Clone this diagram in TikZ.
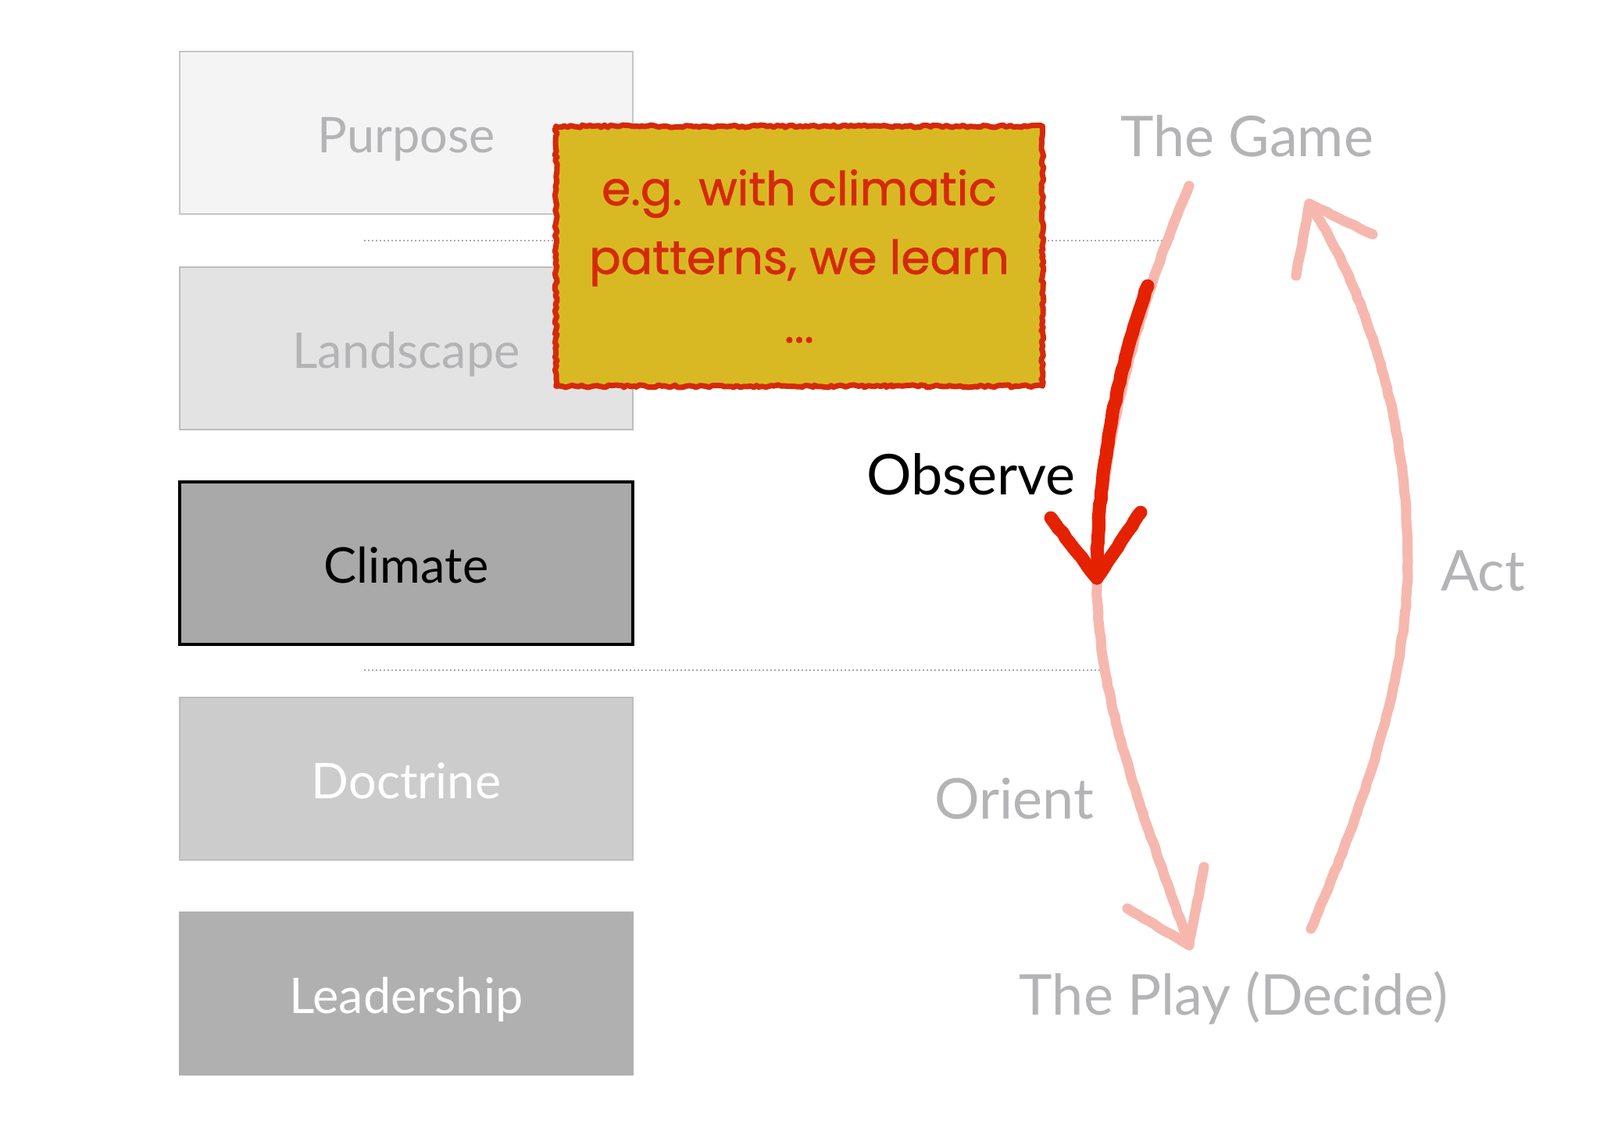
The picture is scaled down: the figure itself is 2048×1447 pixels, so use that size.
\documentclass[tikz,border=0pt]{standalone}
\usepackage{fontspec}
\setmainfont{Lato}
\newfontfamily\comicfont[BoldFont=Poppins, BoldFeatures={FakeBold=1.2}]{Poppins}
\usetikzlibrary{decorations.pathmorphing}
\definecolor{lblgray}{HTML}{B4B4B7}
\definecolor{pfill}{HTML}{F4F4F4}
\definecolor{pline}{HTML}{C6C6C6}
\definecolor{lfill}{HTML}{E3E3E3}
\definecolor{lline}{HTML}{BDBDBD}
\definecolor{cfill}{HTML}{A9A9A9}
\definecolor{dfill}{HTML}{CCCCCC}
\definecolor{dline}{HTML}{BEBEBE}
\definecolor{efill}{HTML}{B0B0B0}
\definecolor{notefill}{HTML}{D9B923}
\definecolor{notered}{HTML}{D42A0A}
\definecolor{pinkc}{HTML}{F6B8AE}
\definecolor{redc}{HTML}{E52200}
\definecolor{dotc}{HTML}{AAAAAA}
\tikzset{
  layer/.style={draw, minimum width=290pt, minimum height=104pt, inner sep=0pt,
    line width=1.2pt, text height=29pt, text depth=4pt,
    font=\fontsize{31.5}{36}\selectfont},
  biglabel/.style={inner sep=0pt, font=\fontsize{36}{42}\selectfont, text=lblgray},
  guide/.style={draw=dotc, line width=1pt, dash pattern=on 1pt off 1.5pt},
  crayon/.style={draw=pinkc, line width=6.5pt, line cap=round, line join=round,
    decorate, decoration={random steps, segment length=4pt, amplitude=0.35pt}},
  crayonred/.style={crayon, draw=redc, line width=8.5pt},
  notebox/.style={fill=notefill, minimum width=311pt, minimum height=166pt, inner sep=0pt,
    align=center, text=notered, font=\comicfont\bfseries\fontsize{30}{44}\selectfont},
  roughedge/.style={draw=notered, line width=3.5pt, line join=round, decorate,
    decoration={random steps, segment length=2pt, amplitude=0.8pt}}
}
\begin{document}
\begin{tikzpicture}[x=0.5pt,y=-0.5pt]
\useasboundingbox (0,0) rectangle (2048,1447);
\fill[white] (0,0) rectangle (2048,1447);

% layer boxes
\node[layer, fill=pfill, draw=pline, text=lblgray] (purpose) at (520,170) {Purpose};
\node[layer, fill=lfill, draw=lline, text=lblgray] (landscape) at (520,446) {Landscape};
\node[layer, fill=cfill, draw=black, line width=1.8pt, text=black] (climate) at (520,721) {Climate};
\node[layer, fill=dfill, draw=dline, text=white] (doctrine) at (520,997) {Doctrine};
\node[layer, fill=efill, draw=efill, text=white] (leadership) at (520,1272) {Leadership};

% dotted guides
\coordinate (g1s) at (466,308);
\coordinate (g1e) at (1489,308);
\coordinate (g2s) at (466,858);
\coordinate (g2e) at (1414,858);
\draw[guide] (g1s) -- (g1e);
\draw[guide] (g2s) -- (g2e);

% note
\node[notebox] (note) at (1023,328) {e.g. with climatic\\patterns, we learn\\...};
\draw[roughedge] (note.north west) rectangle (note.south east);

% labels
\node[biglabel] (game) at (1596,174) {The Game};
\node[biglabel, text=black] (observe) at (1243,607) {Observe};
\node[biglabel] (act) at (1898,731) {Act};
\node[biglabel] (orient) at (1298,1023) {Orient};
\node[biglabel] (play) at (1579,1278) {The Play (Decide)};

% left arc (observe / orient)
\coordinate (la) at (1522,238);
\coordinate (lm) at (1404,744);
\coordinate (lb) at (1522,1210);
\draw[crayon] (la) .. controls (1470,360) and (1404,560) .. (lm)
  .. controls (1404,900) and (1470,1060) .. (lb);
\coordinate (lh1) at (1443,1163);
\coordinate (lh2) at (1541,1110);
\draw[crayon] (lh1) -- (lb) -- (lh2);

% right arc (act)
\coordinate (rb) at (1678,1189);
\coordinate (rm) at (1802,718);
\coordinate (rtip) at (1676,261);
\draw[crayon] (rb) .. controls (1760,1000) and (1802,850) .. (rm)
  .. controls (1802,520) and (1740,360) .. (rtip);
\coordinate (rh1) at (1659,353);
\coordinate (rh2) at (1757,300);
\draw[crayon] (rh1) -- (rtip) -- (rh2);

% red highlight arrow
\coordinate (rs) at (1469,366);
\coordinate (rt) at (1404,740);
\draw[crayonred] (rs) .. controls (1432,470) and (1404,600) .. (rt);
\coordinate (rh3) at (1345,663);
\coordinate (rh4) at (1460,656);
\draw[crayonred] (rh3) -- (rt) -- (rh4);
\end{tikzpicture}
\end{document}
